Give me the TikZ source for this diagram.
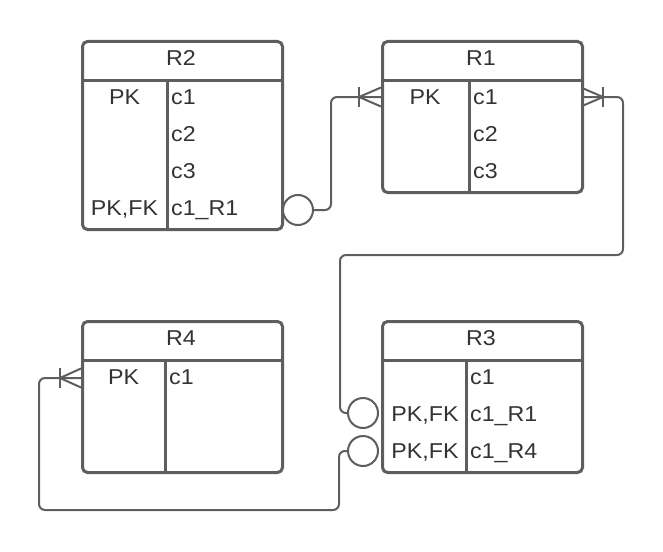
\documentclass[tikz,border=0pt]{standalone}
\usepackage{fontspec}
\setmainfont{Liberation Sans}[FakeStretch=1.08]
\definecolor{ln}{HTML}{5E5E5E}
\definecolor{tx}{HTML}{333333}
\tikzset{
  tbl/.style={draw=ln, line width=3pt, rounded corners=5pt, minimum width=200pt, anchor=north west, inner sep=0pt},
  sepl/.style={draw=ln, line width=3pt},
  txt/.style={text=tx, font=\fontsize{21.5}{24}\selectfont, inner sep=0pt},
  hd/.style={txt, anchor=base},
  lc/.style={txt, anchor=base},
  rc/.style={txt, anchor=base west},
  conn/.style={draw=ln, line width=2pt, rounded corners=6pt},
  foot/.style={draw=ln, line width=2pt},
  ring/.style={circle, draw=ln, line width=2pt, minimum size=30pt, inner sep=0pt, fill=white},
}
\begin{document}
\begin{tikzpicture}[x=1pt,y=-1pt]
\useasboundingbox (0,0) rectangle (663,551);
% ---------- R2 ----------
\node[tbl, minimum height=188pt] (R2) at (81,40) {};
\draw[sepl] (81,80) -- (281,80);
\draw[sepl] (167,80) -- (167,228);
\node[hd] (R2h) at (181,65.5) {R2};
\node[lc] (R2pk) at (124.5,104.5) {PK};
\node[rc] (R2c1) at (171,104.5) {c1};
\node[rc] (R2c2) at (171,141) {c2};
\node[rc] (R2c3) at (171,178) {c3};
\node[lc] (R2fk) at (124.5,215) {PK,FK};
\node[rc] (R2c4) at (171,215) {c1\_R1};
% ---------- R1 ----------
\node[tbl, minimum height=151pt] (R1) at (381,40) {};
\draw[sepl] (381,80) -- (581,80);
\draw[sepl] (469,80) -- (469,191);
\node[hd] (R1h) at (481,65.5) {R1};
\node[lc] (R1pk) at (425,104.5) {PK};
\node[rc] (R1c1) at (473,104.5) {c1};
\node[rc] (R1c2) at (473,141) {c2};
\node[rc] (R1c3) at (473,178) {c3};
% ---------- R4 ----------
\node[tbl, minimum height=151pt] (R4) at (81,320) {};
\draw[sepl] (81,360) -- (281,360);
\draw[sepl] (165,360) -- (165,471);
\node[hd] (R4h) at (181,345.5) {R4};
\node[lc] (R4pk) at (123.5,384.5) {PK};
\node[rc] (R4c1) at (169,384.5) {c1};
% ---------- R3 ----------
\node[tbl, minimum height=151pt] (R3) at (381,320) {};
\draw[sepl] (381,360) -- (581,360);
\draw[sepl] (466,360) -- (466,471);
\node[hd] (R3h) at (481,345.5) {R3};
\node[rc] (R3c1) at (470,384.5) {c1};
\node[lc] (R3fk1) at (425,421) {PK,FK};
\node[rc] (R3c2) at (470,421) {c1\_R1};
\node[lc] (R3fk2) at (425,458) {PK,FK};
\node[rc] (R3c3) at (470,458) {c1\_R4};
% ---------- attachment points ----------
\coordinate (r1w) at (381,97);
\coordinate (r1e) at (581,97);
\coordinate (r4w) at (81,378);
\node[ring] (o2) at (298,210) {};
\node[ring] (o31) at (363,413) {};
\node[ring] (o34) at (363,451) {};
% ---------- R2 -> R1 ----------
\draw[conn] (o2.east) -- ++(17,0) |- (r1w);
\draw[foot] (r1w) ++(0,-9.5) -- ++(-22,9.5) -- ++(22,9.5);
\draw[foot] (r1w) ++(-22,-10) -- ++(0,20);
% ---------- R3 -> R1 ----------
\draw[conn] (r1e) -- ++(42,0) -- ++(0,158) -- ++(-283,0) |- (o31.west);
\draw[foot] (r1e) ++(0,-9.5) -- ++(22,9.5) -- ++(-22,9.5);
\draw[foot] (r1e) ++(22,-10) -- ++(0,20);
% ---------- R3 -> R4 ----------
\draw[conn] (o34.west) -- ++(-8,0) -- ++(0,59) -- ++(-300,0) |- (r4w);
\draw[foot] (r4w) ++(0,-9.5) -- ++(-21,9.5) -- ++(21,9.5);
\draw[foot] (r4w) ++(-21,-10) -- ++(0,20);
\end{tikzpicture}
\end{document}
